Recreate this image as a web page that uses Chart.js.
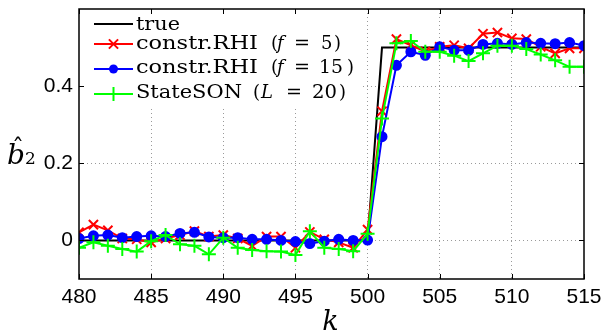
<!DOCTYPE html>
<html>
<head>
<meta charset="utf-8">
<script src="https://cdn.jsdelivr.net/npm/chart.js@4/dist/chart.umd.min.js"></script>
<style>
  html, body { margin: 0; padding: 0; background: #fff; }
  #wrap { width: 602px; height: 336px; }
</style>
</head>
<body>
<div id="wrap"><canvas id="chart" width="602" height="336"></canvas></div>
<script>
// sample index k
const kValues = [480, 481, 482, 483, 484, 485, 486, 487, 488, 489, 490, 491,
  492, 493, 494, 495, 496, 497, 498, 499, 500, 501, 502, 503, 504, 505, 506,
  507, 508, 509, 510, 511, 512, 513, 514, 515];

// true parameter (step at k = 501)
const trueB2 = [0, 0, 0, 0, 0, 0, 0, 0, 0, 0, 0, 0, 0, 0, 0, 0, 0, 0, 0, 0, 0,
  0.5, 0.5, 0.5, 0.5, 0.5, 0.5, 0.5, 0.5, 0.5, 0.5, 0.5, 0.5, 0.5, 0.5, 0.5];

const rhiF5 = [0.021, 0.041, 0.026, 0.005, 0.003, -0.005, 0.005, 0.014, 0.024,
  0.010, 0.014, 0.005, -0.014, 0.010, 0.010, -0.019, 0.022, 0.003, -0.005,
  -0.019, 0.028, 0.335, 0.522, 0.506, 0.490, 0.502, 0.506, 0.498, 0.536,
  0.539, 0.524, 0.522, 0.502, 0.485, 0.498, 0.498];

const rhiF15 = [0.005, 0.012, 0.014, 0.007, 0.010, 0.012, 0.010, 0.018, 0.021,
  0.009, 0.007, 0.007, 0.003, 0.003, 0.000, -0.003, -0.008, -0.002, 0.003,
  0.000, 0.001, 0.269, 0.454, 0.489, 0.480, 0.502, 0.493, 0.493, 0.508,
  0.511, 0.508, 0.513, 0.511, 0.510, 0.513, 0.505];

const stateSON = [-0.019, -0.005, -0.014, -0.022, -0.029, -0.002, 0.014, -0.010,
  -0.014, -0.036, 0.007, -0.019, -0.025, -0.028, -0.029, -0.038, 0.024,
  -0.019, -0.022, -0.028, 0.017, 0.316, 0.511, 0.517, 0.489, 0.489, 0.479,
  0.465, 0.485, 0.505, 0.505, 0.496, 0.482, 0.467, 0.450, 0.450];

const xTicks = [480, 485, 490, 495, 500, 505, 510, 515];
const yTicks = [0, 0.2, 0.4];

function pts(ys) {
  return kValues.map((k, i) => ({ x: k, y: ys[i] }));
}

const SERIF = '"DejaVu Serif", "Liberation Serif", serif';

// legend rows: line y, text baseline, text pieces [text, x, italic, width]
const legendRows = [
  { ds: 0, ly: 24, by: 30, parts: [['true', 136, false, 44]] },
  { ds: 1, ly: 44, by: 49, parts: [['constr.RHI', 136, false, 122], ['(', 271, false], ['f', 277, true], ['=', 294, false, 16], ['5', 321, false], [')', 334, false]] },
  { ds: 2, ly: 69, by: 73, parts: [['constr.RHI', 136, false, 122], ['(', 271, false], ['f', 277, true], ['=', 294, false, 16], ['15', 319, false, 24], [')', 347, false]] },
  { ds: 3, ly: 94, by: 98, parts: [['StateSON', 136, false, 106], ['(', 253, false], ['L', 261, true], ['=', 286, false, 16], ['20', 312, false, 25], [')', 339, false]] }
];

const legendPlugin = {
  id: 'texLegend',
  afterDatasetsDraw(chart) {
    const ctx = chart.ctx;
    const a = chart.chartArea;
    ctx.save();
    ctx.fillStyle = '#fff';
    ctx.fillRect(a.left + 1, a.top + 1, 362 - a.left, 105 - a.top);
    legendRows.forEach(row => {
      const ds = chart.data.datasets[row.ds];
      ctx.strokeStyle = ds.borderColor;
      ctx.lineWidth = ds.borderWidth;
      ctx.beginPath();
      ctx.moveTo(94, row.ly);
      ctx.lineTo(133, row.ly);
      ctx.stroke();
      if (ds.pointStyle === 'circle') {
        ctx.fillStyle = ds.backgroundColor;
        ctx.beginPath();
        ctx.arc(113.5, row.ly, ds.pointRadius, 0, Math.PI * 2);
        ctx.fill();
      } else if (ds.pointStyle) {
        Chart.helpers.drawPoint(ctx, {
          pointStyle: ds.pointStyle,
          radius: ds.pointRadius,
          borderWidth: ds.borderWidth,
          rotation: 0
        }, 113.5, row.ly);
      }
      ctx.fillStyle = '#000';
      ctx.textBaseline = 'alphabetic';
      ctx.textAlign = 'left';
      row.parts.forEach(p => {
        ctx.font = (p[2] ? 'italic ' : '') + '18px ' + SERIF;
        if (p[3]) {
          const w = ctx.measureText(p[0]).width;
          ctx.save();
          ctx.translate(p[1], row.by);
          ctx.scale(p[3] / w, 1);
          ctx.fillText(p[0], 0, 0);
          ctx.restore();
        } else {
          ctx.fillText(p[0], p[1], row.by);
        }
      });
    });
    ctx.restore();
  }
};

const framePlugin = {
  id: 'matlabFrame',
  afterDraw(chart) {
    const ctx = chart.ctx;
    const a = chart.chartArea;
    const xs = chart.scales.x, ys = chart.scales.y;
    ctx.save();
    ctx.strokeStyle = '#000';
    ctx.lineWidth = 1.5;
    ctx.strokeRect(a.left, a.top, a.right - a.left, a.bottom - a.top);
    ctx.lineWidth = 1;
    ctx.beginPath();
    xTicks.forEach(v => {
      const px = Math.round(xs.getPixelForValue(v)) + 0.5;
      ctx.moveTo(px, a.bottom); ctx.lineTo(px, a.bottom - 5);
      ctx.moveTo(px, a.top); ctx.lineTo(px, a.top + 5);
    });
    yTicks.forEach(v => {
      const py = Math.round(ys.getPixelForValue(v)) + 0.5;
      ctx.moveTo(a.left, py); ctx.lineTo(a.left + 5, py);
      ctx.moveTo(a.right, py); ctx.lineTo(a.right - 5, py);
    });
    ctx.stroke();

    // axis labels
    ctx.fillStyle = '#000';
    ctx.textBaseline = 'alphabetic';
    ctx.textAlign = 'left';
    ctx.font = 'italic 28px ' + SERIF;
    ctx.fillText('b', 7, 164);
    ctx.font = '24px ' + SERIF;
    ctx.fillText('\u02C6', 12, 156);
    ctx.font = '17px ' + SERIF;
    ctx.fillText('2', 25, 164);
    ctx.font = 'italic 27px ' + SERIF;
    ctx.textAlign = 'center';
    ctx.fillText('k', (a.left + a.right) / 2 - 1, 330);
    ctx.restore();
  }
};

const gridColor = ctx => {
  const v = ctx.tick ? ctx.tick.value : null;
  if (v === ctx.scale.min || v === ctx.scale.max) return 'rgba(0,0,0,0)';
  return '#9a9a9a';
};

new Chart(document.getElementById('chart'), {
  type: 'line',
  data: {
    datasets: [
      {
        label: 'true',
        data: pts(trueB2),
        borderColor: '#000000',
        backgroundColor: '#000000',
        borderWidth: 2,
        pointRadius: 0,
        order: 4
      },
      {
        label: 'constr.RHI (f = 5)',
        data: pts(rhiF5),
        borderColor: '#ff0000',
        backgroundColor: '#ff0000',
        borderWidth: 2,
        pointStyle: 'crossRot',
        pointRadius: 6.5,
        order: 3
      },
      {
        label: 'constr.RHI (f = 15)',
        data: pts(rhiF15),
        borderColor: '#0000ff',
        backgroundColor: '#0000ff',
        borderWidth: 2,
        pointStyle: 'circle',
        pointRadius: 4.5,
        order: 2
      },
      {
        label: 'StateSON (L = 20)',
        data: pts(stateSON),
        borderColor: '#00ff00',
        backgroundColor: '#00ff00',
        borderWidth: 2,
        pointStyle: 'cross',
        pointRadius: 7,
        order: 1
      }
    ]
  },
  options: {
    responsive: false,
    animation: false,
    layout: { padding: { left: 0, right: 18, top: 8, bottom: 0 } },
    plugins: {
      legend: { display: false },
      tooltip: { enabled: false }
    },
    elements: { line: { tension: 0 } },
    scales: {
      x: {
        type: 'linear',
        min: 480,
        max: 515,
        afterFit: s => { s.height = 57; s.paddingLeft = 0; s.paddingRight = 0; },
        afterBuildTicks: s => { s.ticks = xTicks.map(v => ({ value: v })); },
        grid: { color: gridColor, lineWidth: 1, drawTicks: false },
        border: { display: false, dash: [1, 3] },
        ticks: {
          color: '#000',
          padding: 6,
          maxRotation: 0,
          font: { family: '"Liberation Sans", Arial, sans-serif', size: 21 }
        }
      },
      y: {
        min: -0.1,
        max: 0.6,
        afterFit: s => { s.width = 79; s.paddingTop = 0; s.paddingBottom = 0; },
        afterBuildTicks: s => { s.ticks = yTicks.map(v => ({ value: v })); },
        grid: { color: gridColor, lineWidth: 1, drawTicks: false },
        border: { display: false, dash: [1, 3] },
        ticks: {
          color: '#000',
          padding: 6,
          callback: v => String(v),
          font: { family: '"Liberation Sans", Arial, sans-serif', size: 21 }
        }
      }
    }
  },
  plugins: [legendPlugin, framePlugin]
});
</script>
</body>
</html>
